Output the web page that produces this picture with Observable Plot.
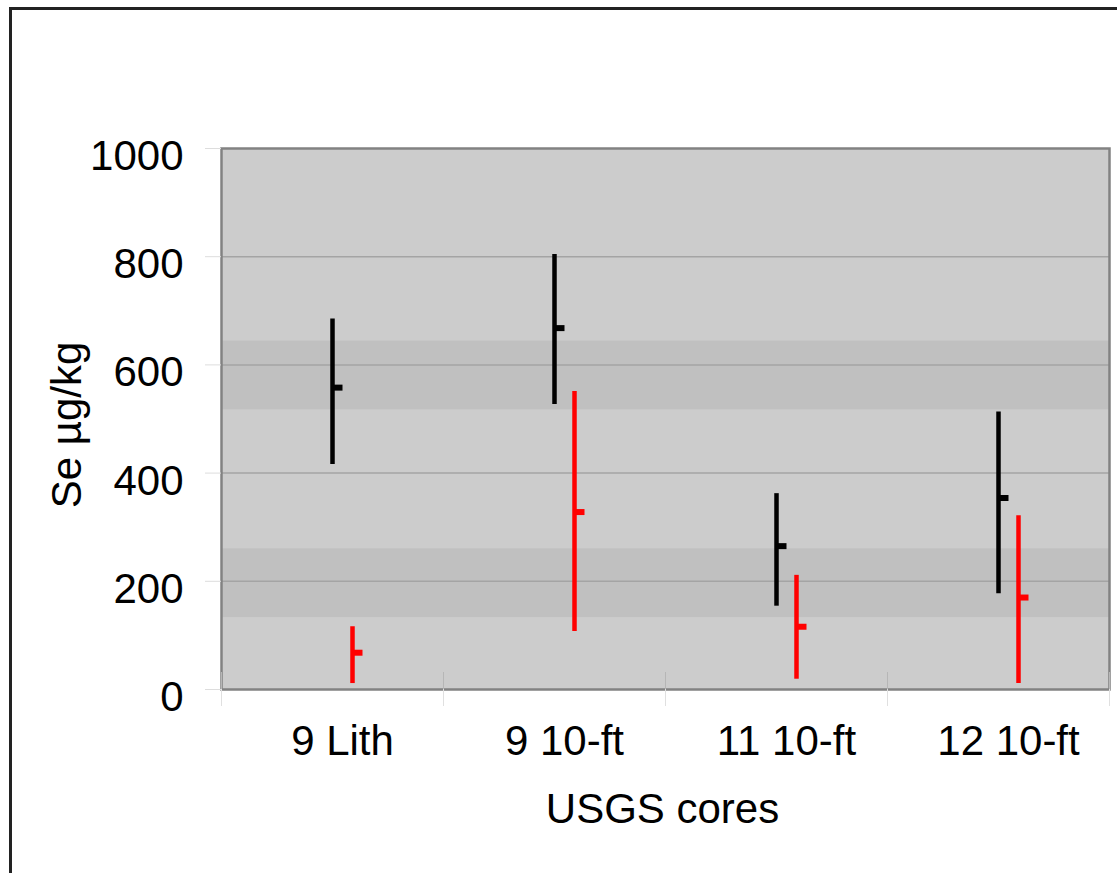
<!DOCTYPE html>
<html>
<head>
<meta charset="utf-8">
<script src="https://cdn.jsdelivr.net/npm/d3@7"></script>
<script src="https://cdn.jsdelivr.net/npm/@observablehq/plot@0.6"></script>
<style>
  html, body { margin: 0; padding: 0; background: #ffffff; overflow: hidden; }
  #wrap { position: relative; width: 1117px; height: 873px; }
  #outline {
    position: absolute; left: 9px; top: 7px; width: 1300px; height: 1100px;
    border-left: 3px solid #222; border-top: 3px solid #222; pointer-events: none;
  }
</style>
</head>
<body>
<div id="wrap"><div id="outline"></div></div>
<script>
// Selenium ranges (µg/kg) per USGS core: high, low and middle value
const categories = ["9 Lith", "9 10-ft", "11 10-ft", "12 10-ft"];
const blackHigh = [685, 804, 362, 513];
const blackLow  = [416, 527, 154, 177];
const blackMid  = [558, 668, 265, 354];
const redHigh   = [116, 551, 211, 321];
const redLow    = [11, 107, 19, 11];
const redMid    = [68, 328, 116, 170];
const yTicks    = [0, 200, 400, 600, 800, 1000];
// darker horizontal shading bands behind the data
const shadeLow  = [133, 517];
const shadeHigh = [260, 644];

const xDomain = [0, categories.length];
const rows = [];
categories.forEach((c, i) => {
  rows.push({cat: c, pos: i + 0.5, series: "black", high: blackHigh[i], low: blackLow[i], mid: blackMid[i]});
  rows.push({cat: c, pos: i + 0.5, series: "red", high: redHigh[i], low: redLow[i], mid: redMid[i]});
});
const shades = shadeLow.map((lo, i) => ({lo, hi: shadeHigh[i]}));
const blackRows = rows.filter(d => d.series === "black");
const redRows = rows.filter(d => d.series === "red");

// short horizontal stub drawn to the right of each range line
const stub = {draw(ctx) { ctx.rect(0, -3, 10, 6); }};

const chart = Plot.plot({
  width: 1117,
  height: 873,
  marginLeft: 221,
  marginRight: 8,
  marginTop: 148,
  marginBottom: 184,
  style: {fontFamily: "'Liberation Sans', Arial, sans-serif", fontSize: "42px", color: "#000", background: "transparent"},
  x: {type: "linear", domain: xDomain, axis: null, label: null},
  y: {domain: [0, 1000], axis: null, label: null},
  marks: [
    Plot.frame({fill: "#cccccc", stroke: null}),
    Plot.rectY(shades, {x1: () => xDomain[0], x2: () => xDomain[1], y1: "lo", y2: "hi", fill: "#c0c0c0"}),
    Plot.ruleY(yTicks.filter(v => v > 0 && v < 1000), {stroke: "#a4a4a4", strokeWidth: 1.5}),
    Plot.frame({stroke: "#828282", strokeWidth: 2.5}),
    // y axis ticks and labels
    Plot.axisY({ticks: yTicks, tickSize: 16, stroke: "#dddddd", tickFormat: () => "", label: null}),
    Plot.axisY({ticks: yTicks, tickSize: 0, tickPadding: 38, dy: 8, tickFormat: d => String(d), label: null}),
    // x boundary ticks crossing the baseline
    Plot.axisX({ticks: d3.range(categories.length + 1), tickSize: 17, stroke: "#e0e0e0", tickFormat: () => "", label: null}),
    Plot.axisX({ticks: d3.range(categories.length + 1), tickSize: 17, dy: -17, stroke: "#b6b6b6", tickFormat: () => "", label: null}),
    Plot.axisX({ticks: categories.map((c, i) => i + 0.5), tickSize: 0, tickPadding: 36, dx: 10,
      tickFormat: v => categories[Math.floor(v)], label: null}),
    // ranges
    Plot.ruleX(blackRows, {x: "pos", y1: "low", y2: "high", stroke: "#000000", strokeWidth: 4.5}),
    Plot.dot(blackRows, {x: "pos", y: "mid", symbol: stub, fill: "#000000", stroke: null}),
    Plot.ruleX(redRows, {x: "pos", y1: "low", y2: "high", stroke: "#ff0000", strokeWidth: 4.5, dx: 20}),
    Plot.dot(redRows, {x: "pos", y: "mid", symbol: stub, fill: "#ff0000", stroke: null, dx: 20}),
    // axis titles
    Plot.text(["USGS cores"], {frameAnchor: "bottom", text: d => d, textAnchor: "middle", lineAnchor: "middle",
      dy: 120, dx: -3, fill: "#000"}),
    Plot.text(["Se µg/kg"], {frameAnchor: "left", text: d => d, rotate: -90, textAnchor: "middle", lineAnchor: "middle",
      dx: -154, dy: 6, fill: "#000"})
  ]
});
document.getElementById("wrap").prepend(chart);
</script>
</body>
</html>
